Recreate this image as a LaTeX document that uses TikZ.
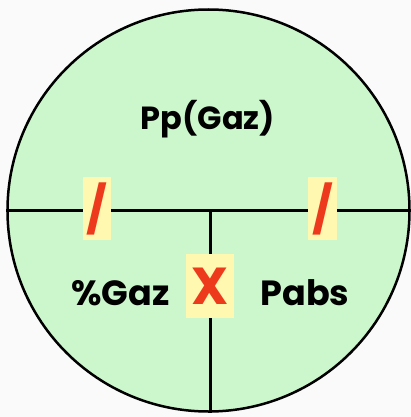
\documentclass[tikz,border=0pt]{standalone}
\usepackage{fontspec}
\setmainfont{Poppins}
\definecolor{discgreen}{HTML}{CCF7CC}
\definecolor{boxyellow}{HTML}{FFF8B0}
\definecolor{symred}{HTML}{EE3A1C}
\definecolor{bgwhite}{HTML}{FAFAFA}
\tikzset{
  label/.style={font=\fontsize{35}{35}\selectfont\bfseries, text=black, anchor=base, inner sep=0pt},
  symbox/.style={fill=boxyellow, inner sep=0pt, text=symred, font=\fontsize{46}{46}\selectfont\bfseries},
  divider/.style={line width=3pt, draw=black},
}
\begin{document}
\begin{tikzpicture}[x=1pt,y=-1pt]
\fill[bgwhite] (0,0) rectangle (411,417);
\useasboundingbox (0,0) rectangle (411,417);
\node[circle, draw=black, line width=2.5pt, fill=discgreen, minimum size=402pt, inner sep=0pt] (disc) at (208.5,210.5) {};
\coordinate (hl) at (disc.west |- 0,210);
\coordinate (hr) at (disc.east |- 0,210);
\coordinate (mid) at (210,210);
\coordinate (bot) at (210,413);
\draw[divider] (hl) -- (hr);
\draw[divider] (mid) -- (bot);
\node[label, font=\fontsize{32}{32}\selectfont\bfseries] (pp) at (208,129) {Pp(Gaz)};
\node[label] (pgaz) at (120.5,305) {\%Gaz};
\node[label] (pabs) at (305,305) {Pabs};
\node[symbox, minimum width=28pt, minimum height=63pt] (divl) at (97,208.5) {/};
\node[symbox, minimum width=29pt, minimum height=63pt] (divr) at (322.5,208.5) {/};
\node[symbox, minimum width=48pt, minimum height=64pt, font=\fontsize{52}{52}\selectfont\bfseries] (mul) at (210,286) {X};
\end{tikzpicture}
\end{document}
